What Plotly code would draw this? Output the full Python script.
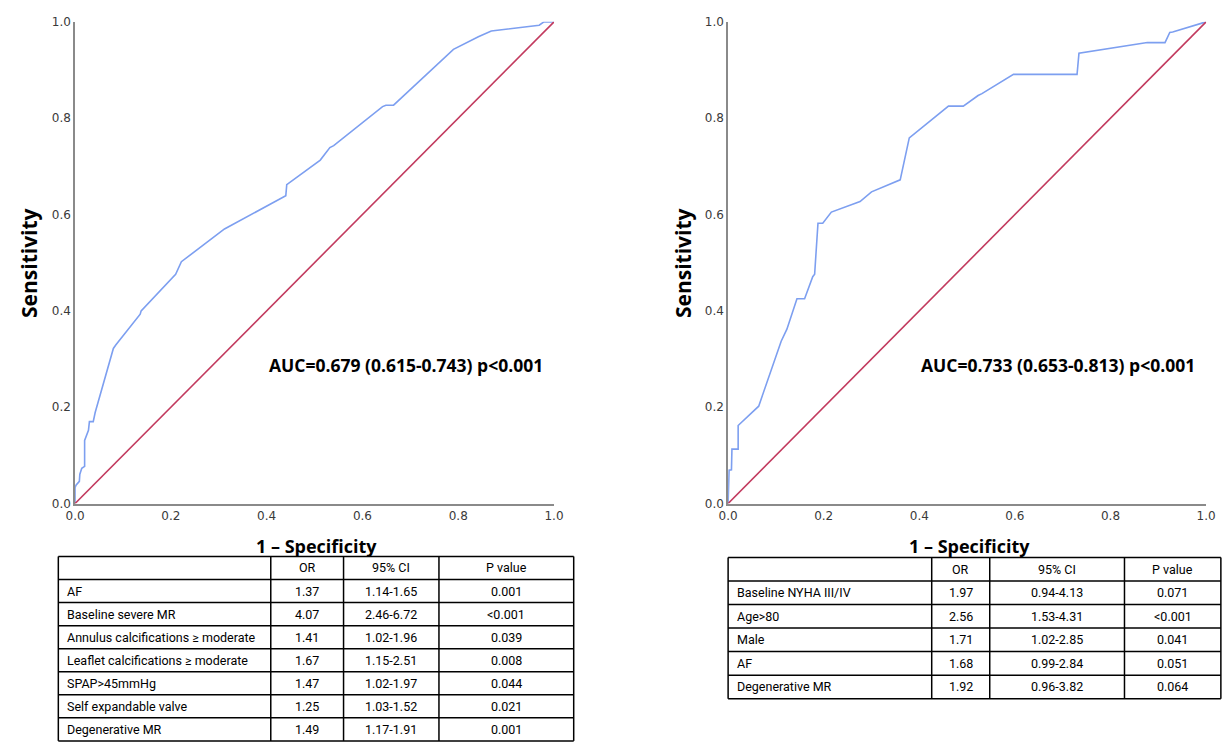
import plotly.graph_objects as go

# ---------------- data ----------------
left_fpr = [0.0, 0.0, 0.002, 0.009, 0.01, 0.014, 0.02, 0.02, 0.028, 0.03, 0.038, 0.042,
            0.08, 0.085, 0.136, 0.138, 0.21, 0.222, 0.312, 0.44, 0.442, 0.512, 0.532,
            0.54, 0.642, 0.649, 0.665, 0.79, 0.842, 0.869, 0.969, 0.979, 1.0]
left_tpr = [0.0, 0.033, 0.038, 0.046, 0.061, 0.073, 0.077, 0.131, 0.152, 0.17, 0.17, 0.189,
            0.322, 0.329, 0.393, 0.4, 0.476, 0.502, 0.57, 0.639, 0.662, 0.713, 0.739,
            0.743, 0.824, 0.827, 0.827, 0.943, 0.969, 0.981, 0.993, 1.0, 1.0]

right_fpr = [0.0, 0.002, 0.007, 0.008, 0.021, 0.021, 0.064, 0.111, 0.123, 0.144, 0.16,
             0.177, 0.181, 0.181, 0.188, 0.198, 0.216, 0.276, 0.3, 0.36, 0.379, 0.461,
             0.492, 0.523, 0.531, 0.597, 0.73, 0.734, 0.877, 0.914, 0.924, 0.93, 1.0]
right_tpr = [0.0, 0.069, 0.07, 0.113, 0.113, 0.162, 0.202, 0.337, 0.362, 0.425, 0.425,
             0.471, 0.476, 0.476, 0.582, 0.582, 0.605, 0.627, 0.647, 0.672, 0.759, 0.825,
             0.825, 0.847, 0.851, 0.891, 0.891, 0.935, 0.957, 0.957, 0.978, 0.979, 1.0]

ref_line = [0.0, 1.0]

left_auc_text = "AUC=0.679 (0.615-0.743) p<0.001"
right_auc_text = "AUC=0.733 (0.653-0.813) p<0.001"

table_header = ["", "OR", "95% CI", "P value"]

left_vars = ["AF", "Baseline severe MR", "Annulus calcifications \u2265 moderate",
             "Leaflet calcifications \u2265 moderate", "SPAP>45mmHg",
             "Self expandable valve", "Degenerative MR"]
left_or = ["1.37", "4.07", "1.41", "1.67", "1.47", "1.25", "1.49"]
left_ci = ["1.14-1.65", "2.46-6.72", "1.02-1.96", "1.15-2.51", "1.02-1.97", "1.03-1.52", "1.17-1.91"]
left_p = ["0.001", "<0.001", "0.039", "0.008", "0.044", "0.021", "0.001"]

right_vars = ["Baseline NYHA III/IV", "Age>80", "Male", "AF", "Degenerative MR"]
right_or = ["1.97", "2.56", "1.71", "1.68", "1.92"]
right_ci = ["0.94-4.13", "1.53-4.31", "1.02-2.85", "0.99-2.84", "0.96-3.82"]
right_p = ["0.071", "<0.001", "0.041", "0.051", "0.064"]

tick_vals = [0.0, 0.2, 0.4, 0.6, 0.8, 1.0]

# ---------------- geometry ----------------
# The page body keeps an 8px margin; the figure fills the rest of the 1231x750 window.
PAGE_MARGIN = 8
W, H = 1231 - 2 * PAGE_MARGIN, 750 - 2 * PAGE_MARGIN


def fx(px):
    """page pixel x -> paper fraction"""
    return (px - PAGE_MARGIN) / W


def fy(py):
    """page pixel y (from top) -> paper fraction"""
    return 1 - (py - PAGE_MARGIN) / H


ROC_BLUE = "#7d9ff0"
REF_RED = "#c23a5e"
AXIS_GRAY = "#8a8a8a"

fig = go.Figure()

for xa, ya, fpr, tpr in [("x", "y", left_fpr, left_tpr), ("x2", "y2", right_fpr, right_tpr)]:
    fig.add_trace(go.Scatter(x=fpr, y=tpr, mode="lines",
                             line=dict(color=ROC_BLUE, width=1.6), xaxis=xa, yaxis=ya,
                             showlegend=False, hoverinfo="skip"))
    fig.add_trace(go.Scatter(x=ref_line, y=ref_line, mode="lines",
                             line=dict(color=REF_RED, width=1.6), xaxis=xa, yaxis=ya,
                             showlegend=False, hoverinfo="skip"))

TICK_FONT = dict(family="DejaVu Sans, sans-serif", size=12, color="#3a3a3a")
axis_common = dict(range=[0, 1], tickvals=tick_vals, tickformat=".1f", showgrid=False,
                   zeroline=False, showline=True, linecolor=AXIS_GRAY, linewidth=1.5,
                   ticks="", tickfont=TICK_FONT, fixedrange=True)

fig.update_layout(
    width=W, height=H, autosize=False,
    margin=dict(l=0, r=0, t=0, b=0),
    paper_bgcolor="white", plot_bgcolor="white",
    showlegend=False,
    xaxis=dict(domain=[fx(66), fx(553)], anchor="y", **axis_common),
    yaxis=dict(domain=[fy(506), fy(15)], anchor="x", **axis_common),
    xaxis2=dict(domain=[fx(730), fx(1216)], anchor="y2", **axis_common),
    yaxis2=dict(domain=[fy(506), fy(15)], anchor="x2", **axis_common),
)

BOLD = "Open Sans, sans-serif"
annotations = []
shapes = []


def label(text, px, py, size, angle=0):
    annotations.append(dict(text="<b>" + text + "</b>", x=fx(px), y=fy(py),
                            xref="paper", yref="paper", xanchor="center", yanchor="middle",
                            textangle=angle, showarrow=False,
                            font=dict(family=BOLD, size=size, color="black")))


label("Sensitivity", 19, 261, 21, -90)
label("Sensitivity", 684, 261, 21, -90)
label("1 \u2013 Specificity", 311, 549, 18)
label("1 \u2013 Specificity", 975, 549, 18)

annotations.append(dict(text="<b>" + left_auc_text + "</b>", x=0.69, y=0.287, xref="x", yref="y",
                        xanchor="center", yanchor="middle", showarrow=False,
                        font=dict(family=BOLD, size=17.5, color="black")))
annotations.append(dict(text="<b>" + right_auc_text + "</b>", x=0.691, y=0.287, xref="x2",
                        yref="y2", xanchor="center", yanchor="middle", showarrow=False,
                        font=dict(family=BOLD, size=17.5, color="black")))

# ---------------- tables (rules + cell text) ----------------
TABLE_FONT = dict(family="Roboto, sans-serif", size=12.5, color="black")


def add_table(col_edges, columns, top, row_h):
    n_rows = 1 + len(columns[0])
    bottom = top + n_rows * row_h
    for r in range(n_rows + 1):
        yy = top + r * row_h
        shapes.append(dict(type="line", xref="paper", yref="paper",
                           x0=fx(col_edges[0]), x1=fx(col_edges[-1]), y0=fy(yy), y1=fy(yy),
                           line=dict(color="black", width=1.5)))
    for xe in col_edges:
        shapes.append(dict(type="line", xref="paper", yref="paper",
                           x0=fx(xe), x1=fx(xe), y0=fy(top), y1=fy(bottom),
                           line=dict(color="black", width=1.5)))
    rows = [table_header] + [list(r) for r in zip(*columns)]
    for ri, row in enumerate(rows):
        yc = top + ri * row_h + row_h / 2
        for ci, txt in enumerate(row):
            if not txt:
                continue
            if ci == 0:
                annotations.append(dict(text=txt, x=fx(col_edges[0] + 7), y=fy(yc),
                                        xref="paper", yref="paper", xanchor="left",
                                        yanchor="middle", showarrow=False, font=TABLE_FONT))
            else:
                xc = (col_edges[ci] + col_edges[ci + 1]) / 2
                annotations.append(dict(text=txt, x=fx(xc), y=fy(yc),
                                        xref="paper", yref="paper", xanchor="center",
                                        yanchor="middle", showarrow=False, font=TABLE_FONT))


add_table([49, 265, 339, 436, 573], [left_vars, left_or, left_ci, left_p], 560, 23.5)
add_table([730, 937, 996, 1133, 1231], [right_vars, right_or, right_ci, right_p], 561, 24)

fig.update_layout(annotations=annotations, shapes=shapes)

fig.write_html("out.html", config={"displayModeBar": False})
